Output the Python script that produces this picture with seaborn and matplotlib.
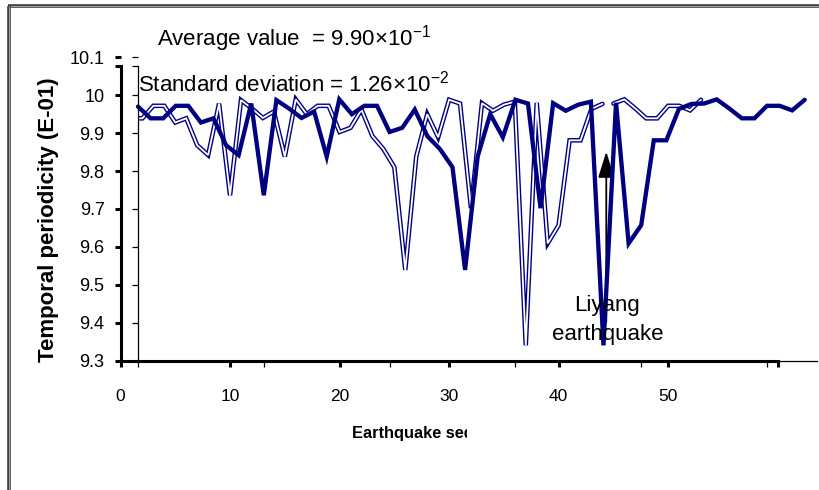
import numpy as np
import pandas as pd
import matplotlib
matplotlib.use("Agg")
import matplotlib.pyplot as plt
import seaborn as sns
from matplotlib.transforms import Bbox
from matplotlib.lines import Line2D

# ---------------- data ----------------
periodicity = [9.970, 9.939, 9.939, 9.972, 9.972, 9.928, 9.939, 9.868, 9.842, 9.978,
               9.736, 9.987, 9.965, 9.940, 9.957, 9.838, 9.989, 9.950, 9.972, 9.972,
               9.903, 9.914, 9.962, 9.892, 9.858, 9.810, 9.539, 9.838, 9.950, 9.889,
               9.988, 9.978, 9.702, 9.979, 9.959, 9.975, 9.983, 9.340, 9.980, 9.609,
               9.657, 9.881, 9.881, 9.964, 9.977, 9.978, 9.989, 9.965, 9.939, 9.939,
               9.972, 9.972, 9.960, 9.988]
sequence = list(range(len(periodicity)))
break_after = 44            # the double line is interrupted after this point

y_ticks = [9.3, 9.4, 9.5, 9.6, 9.7, 9.8, 9.9, 10.0, 10.1]
y_tick_labels = ["9.3", "9.4", "9.5", "9.6", "9.7", "9.8", "9.9", "10", "10.1"]
x_ticks = [0, 10, 20, 30, 40, 50, 60]
x_tick_labels = ["0", "10", "20", "30", "40", "50", ""]
seq_ticks = [0, 10, 20, 30, 40, 50]

avg_text = "Average value  = 9.90\u00d710$^{-1}$"
std_text = "Standard deviation = 1.26\u00d710$^{-2}$"
x_label = "Earthquake sequence"
y_label = "Temporal periodicity (E-01)"
event_lines = ["Liyang", "earthquake"]

NAVY = "#000080"

# ---------------- style ----------------
sns.set_theme(style="white")
plt.rcParams['font.family'] = ['Liberation Sans', 'DejaVu Sans']
plt.rcParams['mathtext.fontset'] = 'custom'
plt.rcParams['mathtext.rm'] = 'Liberation Sans'
plt.rcParams['mathtext.it'] = 'Liberation Sans:italic'
plt.rcParams['mathtext.bf'] = 'Liberation Sans:bold'

W, H = 819, 490
fig = plt.figure(figsize=(W / 100, H / 100), dpi=100)
fig.patch.set_facecolor("white")


def rect(left, right, top, bottom):
    return [left / W, 1 - bottom / H, (right - left) / W, (bottom - top) / H]


ax = fig.add_axes(rect(120.5, 777.7, 57.3, 360.5))
ax2 = fig.add_axes(rect(138.0, 138.0 + 54 * 12.58, 57.3, 360.5))

df = pd.DataFrame({"seq": sequence, "value": periodicity})

# ---- double (hollow) line on the main axis ----
for part in (df[df.seq <= break_after], df[df.seq > break_after]):
    sns.lineplot(data=part, x="seq", y="value", ax=ax, color=NAVY, lw=3.3,
                 legend=False, solid_joinstyle="miter")
    sns.lineplot(data=part, x="seq", y="value", ax=ax, color="white", lw=1.3,
                 legend=False, solid_joinstyle="miter")

ax.set_xlim(0, 60)
ax.set_ylim(9.3, 10.1)
ax.set_xticks(x_ticks)
ax.set_xticklabels(x_tick_labels)
ax.set_yticks(y_ticks)
ax.set_yticklabels(y_tick_labels)
ax.set_yticks([10.077], minor=True)
ax.yaxis.get_major_ticks()[-1].tick1line.set_visible(False)
ax.tick_params(axis="both", which="both", direction="out", length=4.5, width=2.2,
               color="black", labelcolor="black", bottom=True, left=True)
ax.tick_params(axis="x", pad=16, labelsize=12.5)
ax.tick_params(axis="y", pad=7, labelsize=13)
ax.set_xlabel("")
ax.set_ylabel("")
for s in ["top", "right"]:
    ax.spines[s].set_visible(False)
for s in ["left", "bottom"]:
    ax.spines[s].set_visible(True)
    ax.spines[s].set_color("black")
    ax.spines[s].set_linewidth(2.2)
ax.spines["left"].set_bounds(9.3, 10.077)
ax.spines["bottom"].set_bounds(0, 60)

# ---- thick line on the second (overlaid) chart ----
ax2.set_facecolor("none")
sns.lineplot(data=df, x="seq", y="value", ax=ax2, color=NAVY, lw=3.1,
             legend=False, solid_joinstyle="miter")
for ln in ax2.lines:
    ln.set_clip_on(False)
ax2.set_xlim(0, 54)
ax2.set_ylim(9.3, 10.1)
ax2.set_xticks(seq_ticks)
ax2.set_xticklabels([])
ax2.set_yticks(y_ticks)
ax2.set_yticklabels([])
ax2.set_yticks([10.077], minor=True)
ax2.yaxis.get_major_ticks()[-1].tick1line.set_visible(False)
ax2.tick_params(axis="both", which="both", direction="out", length=4, width=0.9,
                color="black", bottom=True, left=True)
ax2.set_xlabel("")
ax2.set_ylabel("")
for s in ["top", "right"]:
    ax2.spines[s].set_visible(False)
for s in ["left", "bottom"]:
    ax2.spines[s].set_visible(True)
    ax2.spines[s].set_color("black")
    ax2.spines[s].set_linewidth(0.9)
ax2.spines["left"].set_bounds(9.3, 10.077)

# clip the double line to the second chart's plot area
for ln in ax.lines:
    ln.set_clip_path(ax2.patch)

# ---------------- texts ----------------
def ftext(x, y, s, **kw):
    return fig.text(x / W, 1 - y / H, s, **kw)

ftext(157, 45, avg_text, fontsize=16, ha="left", va="baseline", color="black")
ftext(138, 91.7, std_text, fontsize=16, ha="left", va="baseline", color="black")
ftext(607.5, 311, event_lines[0], fontsize=16, ha="center", va="baseline", color="black")
ftext(607.5, 340, event_lines[1], fontsize=16, ha="center", va="baseline", color="black")

ftext(49, 219.5, y_label, fontsize=16, fontweight="bold", rotation=90,
      ha="center", va="center", color="black")
xl = ftext(351.7, 433, x_label, fontsize=11.8, fontweight="bold",
           ha="left", va="center", color="black")
xl.set_clip_box(Bbox.from_extents(0, 0, 467, H))
xl.set_clip_on(True)

# arrow pointing to the Liyang earthquake
ax.annotate("", xy=(break_after + 0.35, 9.851), xytext=(break_after + 0.35, 9.402),
            arrowprops=dict(arrowstyle="-|>,head_length=0.8,head_width=0.25",
                            color="black", lw=1.3, shrinkA=0, shrinkB=0,
                            mutation_scale=20))

# frame (top and left border)
for xs, ys in [([8, W], [6.5, 6.5]), ([9, 9], [6, H])]:
    fig.add_artist(Line2D([x / W for x in xs], [1 - y / H for y in ys],
                          transform=fig.transFigure, color="#3a3a3a", lw=2.6,
                          solid_capstyle="butt"))
    fig.add_artist(Line2D([x / W for x in xs], [1 - y / H for y in ys],
                          transform=fig.transFigure, color="#a0a0a0", lw=0.8,
                          solid_capstyle="butt"))

fig.savefig("out.png", dpi=100, facecolor="white")
